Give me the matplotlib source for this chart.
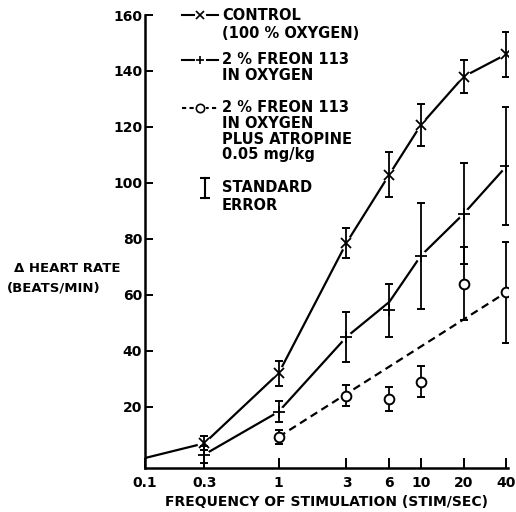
import numpy as np
import matplotlib
matplotlib.use("Agg")
import matplotlib.pyplot as plt

# stimulation frequencies (stim/sec)
freq = [0.3, 1, 3, 6, 10, 20, 40]
tick_freq = [0.115, 0.3, 1, 3, 6, 10, 20, 40]
tick_labels = ["0.1", "0.3", "1", "3", "6", "10", "20", "40"]

# control (100 % oxygen)
control = [7, 32, 78.6, 103, 120.7, 138, 146]
control_err = [2.5, 4.5, 5.5, 8, 7.5, 6, 8]
control_line_x = [0.1, 0.3, 1, 3, 6, 10, 20, 40]
control_line = [1, 7, 32, 78.6, 103, 120.7, 138, 146]

# 2 % freon 113 in oxygen
freon = [3, 18.3, 45, 54.5, 74, 89, 106]
freon_err = [3, 3.7, 9, 9.5, 19, 18, 21]
freon_line = [3, 18.3, 45, 57.5, 74, 89, 106]

# 2 % freon 113 in oxygen plus atropine
atro_x = [1, 3, 6, 10, 20, 40]
atro = [9.3, 24, 22.9, 29, 64, 61]
atro_err = [2.4, 3.7, 4.2, 5.6, 13, 18]
atro_fit_x = [1, 40]
atro_fit = [9.3, 61]

plt.rcParams['font.family'] = ['DejaVu Sans']
plt.rcParams['font.weight'] = 'bold'

fig = plt.figure(figsize=(5.16, 5.12), dpi=100)
ax = fig.add_axes([145 / 516, 44 / 512, 363 / 516, 453 / 512])

lw = 1.6
# lines
ax.plot(control_line_x, control_line, color='k', lw=lw, zorder=2)
ax.plot(freq, freon_line, color='k', lw=lw, zorder=2)
ax.plot(atro_fit_x, atro_fit, color='k', lw=lw, ls=(0, (3.5, 2.2)), zorder=2)

# white gaps round the points
ax.plot(freq, control, ls='none', marker='o', ms=10, mfc='white', mec='none', zorder=3)
ax.plot(freq, freon, ls='none', marker='o', ms=8, mfc='white', mec='none', zorder=3)

# error bars
eb = dict(fmt='none', ecolor='k', elinewidth=1.3, capsize=3, capthick=1.4, zorder=4)
ax.errorbar(freq, control, yerr=control_err, **eb)
ax.errorbar(freq, freon, yerr=freon_err, **eb)
ax.errorbar(atro_x, atro, yerr=atro_err, **eb)

# markers
ax.plot(freq, control, ls='none', marker='x', ms=7, mew=1.3, color='k', zorder=5)
ax.plot(freq, freon, ls='none', marker='+', ms=8, mew=1.3, color='k', zorder=5)
ax.plot(atro_x, atro, ls='none', marker='o', ms=7, mew=1.4, mfc='white', mec='k', zorder=5)

ax.set_xscale('log')
ax.set_xlim(0.115, 41)
ax.set_ylim(-1.8, 160)
ax.set_xticks(tick_freq)
ax.set_xticklabels(tick_labels)
ax.xaxis.set_minor_locator(matplotlib.ticker.NullLocator())
ax.set_yticks(np.arange(20, 161, 20))

ax.spines['top'].set_visible(False)
ax.spines['right'].set_visible(False)
ax.spines['left'].set_linewidth(1.8)
ax.spines['bottom'].set_linewidth(1.8)
ax.tick_params(axis='y', direction='in', length=6, width=1.4, pad=2, labelsize=10)
ax.tick_params(axis='x', direction='in', length=7, width=1.4, pad=6, labelsize=10)
for lab in ax.get_xticklabels() + ax.get_yticklabels():
    lab.set_fontweight('bold')

ax.set_xlabel("FREQUENCY OF STIMULATION (STIM/SEC)", fontsize=10,
              fontweight='bold', labelpad=3)
fig.text(14 / 516, 1 - 269 / 512, "\u0394 HEART RATE", fontsize=9.5,
         fontweight='bold', ha='left', va='center')
fig.text(7 / 516, 1 - 288 / 512, "(BEATS/MIN)", fontsize=9.5,
         fontweight='bold', ha='left', va='center')


# manual legend
def fy(py):
    return (468 - py) / 453


def fx(px):
    return (px - 145) / 363


def sample(py, marker, ls, mfc='k'):
    xs = [fx(182), fx(200), fx(218)]
    ys = [fy(py)] * 3
    ax.plot(xs, ys, color='k', lw=1.5, ls=ls, transform=ax.transAxes,
            clip_on=False, zorder=2)
    ax.plot(xs[1], ys[1], marker='o', ms=8, mfc='white', mec='none',
            transform=ax.transAxes, clip_on=False, zorder=3)
    ax.plot(xs[1], ys[1], marker=marker, ms=6, mew=1.2, color='k', mfc=mfc,
            transform=ax.transAxes, clip_on=False, zorder=4)


sample(15, 'x', '-')
sample(60, '+', '-')
sample(108, 'o', (0, (2, 1.6)), mfc='white')
ax.plot([fx(205), fx(205)], [fy(178), fy(198)], color='k', lw=1.5, marker='_',
        ms=7, mew=1.5, transform=ax.transAxes, clip_on=False)

legend_lines = [
    (15, "CONTROL"), (33, "(100 % OXYGEN)"),
    (60, "2 % FREON 113"), (76, "IN OXYGEN"),
    (108, "2 % FREON 113"), (124, "IN OXYGEN"), (139, "PLUS ATROPINE"),
    (155, "0.05 mg/kg"),
    (188, "STANDARD"), (205, "ERROR"),
]
for py, txt in legend_lines:
    ax.text(fx(222), fy(py), txt, transform=ax.transAxes, fontsize=10.5,
            fontweight='bold', ha='left', va='center')

fig.savefig("out.png", dpi=100)
